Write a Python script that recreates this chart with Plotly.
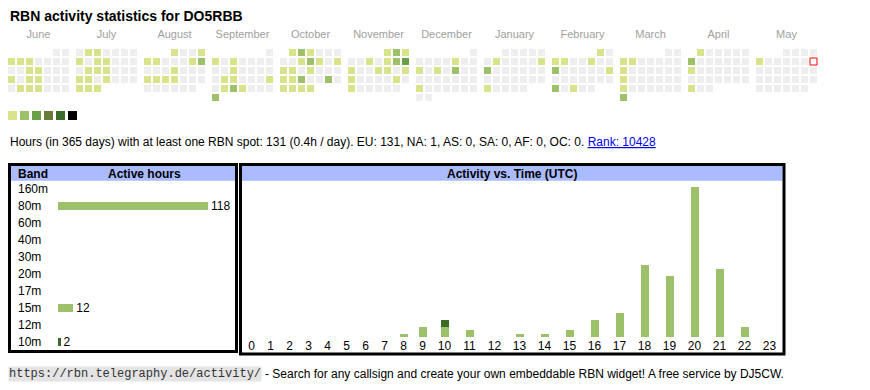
import datetime as dt
import plotly.graph_objects as go

W, H = 870, 390

# ---------------- data ----------------
TITLE = "RBN activity statistics for DO5RBB"

MONTH_NAMES = ["June", "July", "August", "September", "October", "November",
               "December", "January", "February", "March", "April", "May"]
MONTH_STARTS = ["2024-06-01", "2024-07-01", "2024-08-01", "2024-09-01",
                "2024-10-01", "2024-11-01", "2024-12-01", "2025-01-01",
                "2025-02-01", "2025-03-01", "2025-04-01", "2025-05-01"]
# activity level for every day of each month (0 = none ... 6 = highest)
DAY_LEVELS = [
    "0011100000" "0110001011" "0000111000",            # June
    "0110000101" "1000011100" "0110100011" "1",        # July
    "1001110001" "2000100011" "1100000000" "0",        # August
    "0101000000" "1000001100" "0101210002",            # September
    "1210000012" "1011101000" "1120020111" "1",        # October
    "1210010123" "1001101100" "0010100000",            # November
    "0000010010" "1020000000" "0010000000" "0",        # December
    "0000001000" "0120000000" "0000001000" "0",        # January
    "1011001002" "0000010000" "00020100",              # February
    "0011000001" "0000001000" "0001000000" "2",        # March
    "1000002000" "0001000000" "0000000100",            # April
    "0000100000" "0000000000" "0000000000" "0",        # May
]
TODAY = "2025-05-11"
LEVEL_COLORS = ["#eeeeee", "#d9e38b", "#9dc16a", "#6aa046", "#687b3b", "#3c6a28", "#000000"]

SUMMARY = ("Hours (in 365 days) with at least one RBN spot: 131 (0.4h / day). "
           "EU: 131, NA: 1, AS: 0, SA: 0, AF: 0, OC: 0. ")
RANK = "Rank: 10428"

BANDS = ["160m", "80m", "60m", "40m", "30m", "20m", "17m", "15m", "12m", "10m"]
BAND_HOURS = [0, 118, 0, 0, 0, 0, 0, 12, 0, 2]
BAND_COLORS = ["#9dc16a", "#9dc16a", "#9dc16a", "#9dc16a", "#9dc16a",
               "#9dc16a", "#9dc16a", "#9dc16a", "#9dc16a", "#3c6a28"]

HOUR_LABELS = ["0", "1", "2", "3", "4", "5", "6", "7", "8", "9", "10", "11",
               "12", "13", "14", "15", "16", "17", "18", "19", "20", "21", "22", "23"]
HOURS_80M_15M = [0, 0, 0, 0, 0, 0, 0, 0, 1, 3, 3, 2, 0, 1, 1, 2, 5, 7, 21, 18, 44, 20, 3, 0]
HOURS_10M = [0, 0, 0, 0, 0, 0, 0, 0, 0, 0, 2, 0, 0, 0, 0, 0, 0, 0, 0, 0, 0, 0, 0, 0]

FOOT_URL = "https://rbn.telegraphy.de/activity/"
FOOT_TEXT = "- Search for any callsign and create your own embeddable RBN widget! A free service by DJ5CW."

# ---------------- layout constants ----------------
FONT = "Liberation Sans, Arial, sans-serif"
MONO = "Liberation Mono, Courier New, monospace"
CAL_X0, CAL_Y0, CELL, PITCH, MONTH_W = 8, 49, 7, 9, 68
BAR_PX = 150          # pixel length of the longest bar
HEADER_BLUE = "#aabbff"
TXT = 12


def px(x):
    return x / W


def py(y):
    return 1 - y / H


fig = go.Figure()

# ---------------- calendar ----------------
cx, cy, cc = [], [], []
tx, ty = [], []
today = dt.date.fromisoformat(TODAY)
for mi, (start, levels) in enumerate(zip(MONTH_STARTS, DAY_LEVELS)):
    d0 = dt.date.fromisoformat(start)
    wd0 = d0.weekday()
    for i, ch in enumerate(levels):
        pos = wd0 + i
        col, row = pos % 7, pos // 7
        x = CAL_X0 + mi * MONTH_W + col * PITCH + CELL / 2
        y = CAL_Y0 + row * PITCH + CELL / 2
        if d0 + dt.timedelta(days=i) == today:
            tx.append(x)
            ty.append(y)
            continue
        cx.append(x)
        cy.append(y)
        cc.append(LEVEL_COLORS[int(ch)])

fig.add_trace(go.Scatter(
    x=cx, y=cy, mode="markers", xaxis="x", yaxis="y", hoverinfo="skip",
    marker=dict(symbol="square", size=CELL, color=cc, line=dict(width=0))))
fig.add_trace(go.Scatter(
    x=tx, y=ty, mode="markers", xaxis="x", yaxis="y", hoverinfo="skip",
    marker=dict(symbol="square", size=CELL, color="white", line=dict(width=1, color="red"))))

# month labels
fig.add_trace(go.Scatter(
    x=[CAL_X0 + i * MONTH_W + (7 * PITCH - 2) / 2 for i in range(len(MONTH_NAMES))],
    y=[35] * len(MONTH_NAMES), text=MONTH_NAMES, mode="text", xaxis="x", yaxis="y",
    hoverinfo="skip", textfont=dict(size=11, color="#a0a0a0", family=FONT)))

# level legend swatches
lv = list(range(1, len(LEVEL_COLORS)))
fig.add_trace(go.Scatter(
    x=[CAL_X0 + 4.5 + 12 * (k - 1) for k in lv], y=[115.5] * len(lv), mode="markers",
    xaxis="x", yaxis="y", hoverinfo="skip",
    marker=dict(symbol="square", size=9, color=[LEVEL_COLORS[k] for k in lv], line=dict(width=0))))

# ---------------- band table ----------------
fig.add_trace(go.Bar(
    x=BAND_HOURS, y=BANDS, orientation="h", xaxis="x2", yaxis="y2",
    marker=dict(color=BAND_COLORS, line=dict(width=0)), width=0.42,
    text=[str(v) if v else "" for v in BAND_HOURS], textposition="outside",
    cliponaxis=False, constraintext="none",
    textfont=dict(size=TXT, color="black", family=FONT), hoverinfo="skip"))

# ---------------- activity vs time ----------------
col_w = [6 * len(s) + 13 for s in HOUR_LABELS]
centers, acc = [], 0
for w in col_w:
    centers.append(acc + w / 2)
    acc += w
table_w = acc

fig.add_trace(go.Bar(
    x=centers, y=HOURS_80M_15M, xaxis="x3", yaxis="y3", width=8,
    marker=dict(color="#9dc16a", line=dict(width=0)), hoverinfo="skip"))
fig.add_trace(go.Bar(
    x=centers, y=HOURS_10M, xaxis="x3", yaxis="y3", width=8,
    marker=dict(color="#3c6a28", line=dict(width=0)), hoverinfo="skip"))

max_total = max(a + b for a, b in zip(HOURS_80M_15M, HOURS_10M))

# ---------------- shapes ----------------
shapes = [
    dict(type="rect", xref="paper", yref="paper", layer="below",
         x0=px(11), x1=px(235), y0=py(166), y1=py(180.7),
         fillcolor=HEADER_BLUE, line=dict(width=0)),
    dict(type="rect", xref="paper", yref="paper", layer="below",
         x0=px(242), x1=px(782.5), y0=py(166), y1=py(180.7),
         fillcolor=HEADER_BLUE, line=dict(width=0)),
    dict(type="rect", xref="paper", yref="paper", layer="above",
         x0=px(9.5), x1=px(236.5), y0=py(164.5), y1=py(351.5),
         line=dict(width=3, color="black")),
    dict(type="rect", xref="paper", yref="paper", layer="above",
         x0=px(240.5), x1=px(784), y0=py(164.5), y1=py(354),
         line=dict(width=3, color="black")),
]

# ---------------- annotations ----------------
ann = [
    dict(x=px(8), y=py(16), text="<b>" + TITLE + "</b>",
         font=dict(size=14, color="black", family=FONT)),
    dict(x=px(8), y=py(142),
         text=SUMMARY + '<span style="fill:#0000ee;text-decoration:underline">' + RANK + "</span>",
         font=dict(size=TXT, color="black", family=FONT)),
    dict(x=px(16), y=py(173.5), text="<b>Band</b>", font=dict(size=12, color="black", family=FONT)),
    dict(x=px(144.5), y=py(173.5), text="<b>Active hours</b>", xanchor="center",
         font=dict(size=12, color="black", family=FONT)),
    dict(x=px(512), y=py(173.5), text="<b>Activity vs. Time (UTC)</b>", xanchor="center",
         font=dict(size=12, color="black", family=FONT)),
    dict(x=px(8), y=py(374), text=FOOT_URL, bgcolor="#e4e4e4", borderpad=0,
         font=dict(size=12, color="#333333", family=MONO)),
    dict(x=px(263), y=py(374), text=FOOT_TEXT, font=dict(size=TXT, color="black", family=FONT)),
]
for b in BANDS:
    ann.append(dict(x=px(16), xref="paper", y=b, yref="y2", text=b,
                    font=dict(size=TXT, color="black", family=FONT)))
for a in ann:
    a.setdefault("xref", "paper")
    a.setdefault("yref", "paper")
    a.setdefault("xanchor", "left")
    a.setdefault("yanchor", "middle")
    a["showarrow"] = False

hidden = dict(visible=False, fixedrange=True, showgrid=False, zeroline=False)

fig.update_layout(
    width=W, height=H, autosize=False,
    margin=dict(l=0, r=0, t=0, b=0, pad=0),
    paper_bgcolor="white", plot_bgcolor="rgba(0,0,0,0)",
    showlegend=False, barmode="stack", bargap=0,
    font=dict(family=FONT, size=11, color="black"),
    xaxis=dict(domain=[0, 1], range=[0, W], **hidden),
    yaxis=dict(domain=[0, 1], range=[H, 0], **hidden),
    xaxis2=dict(domain=[px(58), px(58 + BAR_PX)], range=[0, max(BAND_HOURS)], anchor="y2", **hidden),
    yaxis2=dict(domain=[py(350.5), py(180.5)], type="category", categoryorder="array",
                categoryarray=BANDS, range=[len(BANDS) - 0.5, -0.5], anchor="x2", **hidden),
    xaxis3=dict(domain=[px(242), px(242 + table_w)], range=[0, table_w], anchor="y3",
                tickmode="array", tickvals=centers, ticktext=HOUR_LABELS,
                showticklabels=True, ticks="",
                tickfont=dict(size=TXT, color="black", family=FONT),
                showgrid=False, zeroline=False, showline=False, fixedrange=True),
    yaxis3=dict(domain=[py(337), py(337 - BAR_PX * 156 / 150)],
                range=[0, max_total * 156 / 150], anchor="x3", **hidden),
    shapes=shapes, annotations=ann,
)

fig.write_html("out.html", config=dict(displayModeBar=False, staticPlot=True),
               post_script="document.body.style.margin='0px';")
